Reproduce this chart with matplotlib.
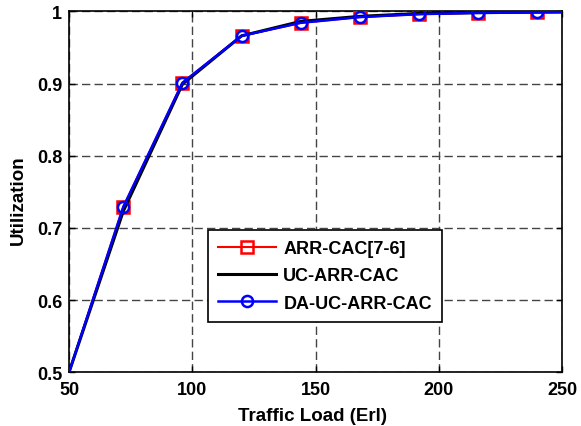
import matplotlib
matplotlib.use("Agg")
import matplotlib.pyplot as plt

# Traffic load (Erl) and utilization for the three admission control schemes
load = [50, 72, 96, 120, 144, 168, 192, 216, 240, 250]
util_arr = [0.5, 0.729, 0.901, 0.966, 0.984, 0.992, 0.996, 0.998, 0.9985, 0.999]
util_uc = [0.5, 0.723, 0.899, 0.966, 0.986, 0.993, 0.997, 0.998, 0.999, 0.999]
util_da = [0.5, 0.729, 0.901, 0.966, 0.984, 0.992, 0.996, 0.998, 0.9985, 0.999]
marker_idx = list(range(1, 9))

labels = ["ARR-CAC[7-6]", "UC-ARR-CAC", "DA-UC-ARR-CAC"]
xticks = [50, 100, 150, 200, 250]
yticks = [0.5, 0.6, 0.7, 0.8, 0.9, 1.0]
yticklabels = ["0.5", "0.6", "0.7", "0.8", "0.9", "1"]

plt.rcParams["font.family"] = ["Liberation Sans", "DejaVu Sans"]
plt.rcParams["font.weight"] = "bold"

fig = plt.figure(figsize=(5.81, 4.27), dpi=100)
ax = fig.add_axes([0.1188, 0.1257, 0.8485, 0.8455])

ax.plot(load, util_arr, color="red", lw=1.5, marker="s", markersize=9,
        markerfacecolor="none", markeredgewidth=1.8, markevery=marker_idx,
        label=labels[0], zorder=3)
ax.plot(load, util_uc, color="black", lw=2.2, label=labels[1], zorder=4)
ax.plot(load, util_da, color="blue", lw=1.8, marker="o", markersize=8,
        markerfacecolor="none", markeredgewidth=1.8, markevery=marker_idx,
        label=labels[2], zorder=5)

ax.set_xlim(50, 250)
ax.set_ylim(0.5, 1.0)
ax.set_xticks(xticks)
ax.set_yticks(yticks)
ax.set_yticklabels(yticklabels)
ax.tick_params(labelsize=13, direction="in", length=4, width=1, top=True, right=True)
ax.tick_params(axis="x", pad=6)
ax.tick_params(axis="y", pad=5)
for lab in ax.get_xticklabels() + ax.get_yticklabels():
    lab.set_fontweight("bold")

ax.grid(True, color="#444444", linestyle=(0, (6, 3)), linewidth=1)
for s in ax.spines.values():
    s.set_linewidth(1.2)

ax.set_xlabel("Traffic Load (Erl)", fontsize=13.5, fontweight="bold")
ax.set_ylabel("Utilization", fontsize=13.5, fontweight="bold")
ax.xaxis.set_label_coords(0.494, -0.095)
ax.yaxis.set_label_coords(-0.085, 0.48)

leg = ax.legend(loc="upper left", bbox_to_anchor=(0.2826, 0.394), fontsize=13,
                frameon=True, fancybox=False, edgecolor="black", framealpha=1,
                handlelength=3.2, labelspacing=0.57, borderpad=0.55,
                handletextpad=0.4, borderaxespad=0)
leg.get_frame().set_linewidth(1.2)
for t in leg.get_texts():
    t.set_fontweight("bold")

fig.savefig("out.png", dpi=100)
